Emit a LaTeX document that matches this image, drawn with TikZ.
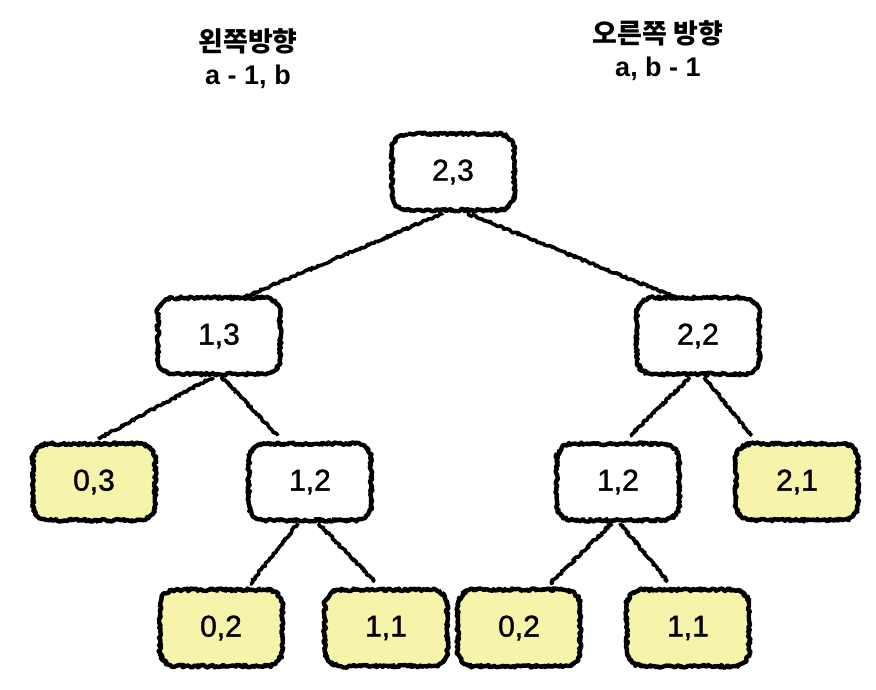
\documentclass[tikz,border=0pt]{standalone}
\usepackage{fontspec}
\setmainfont{Liberation Sans}
\newfontfamily\numfont{Liberation Sans}[FakeBold=1.3]
\newfontfamily\kr{Noto Sans CJK KR}
\usetikzlibrary{decorations.pathmorphing}
\definecolor{leaf}{RGB}{246,243,170}
\begin{document}
\begin{tikzpicture}[x=1pt,y=-1pt,
  box/.style={minimum width=122pt,minimum height=76pt,inner sep=0pt,rounded corners=16pt,
    font=\numfont\fontsize{30}{31}\selectfont},
  leafbox/.style={box,fill=leaf},
  plainbox/.style={box,fill=white},
  rough/.style={line width=4.4pt,line join=round,decorate,
    decoration={random steps,segment length=1.5pt,amplitude=1.4pt}},
  edge/.style={line width=3.6pt,line join=round,decorate,
    decoration={random steps,segment length=1.5pt,amplitude=1.2pt}},
  lbl/.style={align=center,font=\bfseries\fontsize{27}{33}\selectfont}]
\pgfmathsetseed{11}
\useasboundingbox (0,0) rectangle (876,690);
\node[lbl] (tl) at (248,59) {{\kr 왼쪽방향}\\a - 1, b};
\node[lbl] (tr) at (658,51) {{\kr 오른쪽 방향}\\a, b - 1};
\node[plainbox] (n23) at (453,172) {2,3};
\node[plainbox] (n13) at (219,336) {1,3};
\node[plainbox] (n22) at (698,336) {2,2};
\node[leafbox] (n03) at (94,482) {0,3};
\node[plainbox] (n12a) at (310,482) {1,2};
\node[plainbox] (n12b) at (618,482) {1,2};
\node[leafbox] (n21) at (797,482) {2,1};
\node[leafbox] (n02a) at (221,628) {0,2};
\node[leafbox] (n11a) at (386,628) {1,1};
\node[leafbox] (n02b) at (519,628) {0,2};
\node[leafbox] (n11b) at (688,628) {1,1};
\foreach \n in {n23,n13,n22,n03,n12a,n12b,n21,n02a,n11a,n02b,n11b}{
  \draw[rough] ([xshift=16pt]\n.north west) -- ([xshift=-16pt]\n.north east)
    arc[start angle=90,end angle=0,radius=16pt] -- ([yshift=16pt]\n.south east)
    arc[start angle=0,end angle=-90,radius=16pt] -- ([xshift=16pt]\n.south west)
    arc[start angle=270,end angle=180,radius=16pt] -- ([yshift=-16pt]\n.north west)
    arc[start angle=180,end angle=90,radius=16pt] -- cycle;
}
\draw[edge] ([xshift=-10pt,yshift=-3pt]n23.south) -- ([xshift=26pt,yshift=1pt]n13.north);
\draw[edge] ([xshift=14pt,yshift=-3pt]n23.south) -- ([xshift=-24pt,yshift=1pt]n22.north);
\draw[edge] ([xshift=-6pt,yshift=-3pt]n13.south) -- ([xshift=4pt,yshift=5pt]n03.north);
\draw[edge] ([xshift=3pt,yshift=-3pt]n13.south) -- ([xshift=-32pt,yshift=8pt]n12a.north);
\draw[edge] ([xshift=-8pt,yshift=-3pt]n22.south) -- ([xshift=12pt,yshift=8pt]n12b.north);
\draw[edge] ([xshift=6pt,yshift=-3pt]n22.south) -- ([xshift=-45pt,yshift=8pt]n21.north);
\draw[edge] ([xshift=-12pt,yshift=-3pt]n12a.south) -- ([xshift=29pt,yshift=6pt]n02a.north);
\draw[edge] ([xshift=8pt,yshift=-3pt]n12a.south) -- ([xshift=-11pt,yshift=8pt]n11a.north);
\draw[edge] ([xshift=-6pt,yshift=-3pt]n12b.south) -- ([xshift=31pt,yshift=6pt]n02b.north);
\draw[edge] ([xshift=2pt,yshift=-3pt]n12b.south) -- ([xshift=-20pt,yshift=8pt]n11b.north);
\end{tikzpicture}
\end{document}
